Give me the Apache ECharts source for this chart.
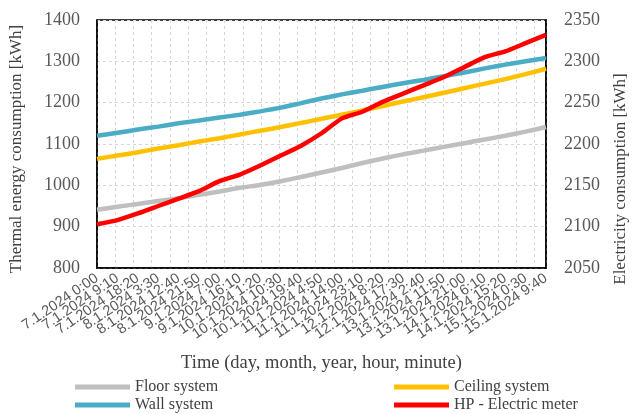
<!DOCTYPE html>
<html>
<head>
<meta charset="utf-8">
<script src="https://cdn.jsdelivr.net/npm/echarts@6/dist/echarts.min.js"></script>
<style>html,body{margin:0;padding:0;background:#fff}#c{width:637px;height:414px}</style>
</head>
<body>
<div id="c"></div>
<script>
var timeLabels = ['7.1.2024 0:00','7.1.2024 9:10','7.1.2024 18:20','8.1.2024 3:30','8.1.2024 12:40','8.1.2024 21:50','9.1.2024 7:00','9.1.2024 16:10','10.1.2024 1:20','10.1.2024 10:30','10.1.2024 19:40','11.1.2024 4:50','11.1.2024 14:00','11.1.2024 23:10','12.1.2024 8:20','12.1.2024 17:30','13.1.2024 2:40','13.1.2024 11:50','13.1.2024 21:00','14.1.2024 6:10','14.1.2024 15:20','15.1.2024 0:30','15.1.2024 9:40'];
var floorSystem = [941,948,955,962,969,977,985,994,1001,1010,1020,1031,1042,1054,1065,1075,1084,1093,1102,1111,1120,1130,1141];
var ceilingSystem = [1064,1072,1080,1089,1097,1106,1114,1123,1132,1141,1151,1161,1171,1181,1192,1203,1213,1224,1235,1246,1257,1269,1282];
var wallSystem = [1120,1127,1135,1142,1150,1157,1164,1171,1179,1188,1199,1210,1220,1229,1238,1247,1255,1264,1273,1283,1292,1300,1308];
var hpMeter = [2103,2108,2116,2125,2134,2143,2155,2163,2174,2186,2198,2213,2231,2239,2251,2261,2271,2281,2293,2305,2312,2322,2332];

var serif = "'Liberation Serif','Times New Roman',serif";
var chart = echarts.init(document.getElementById('c'), null, {renderer:'canvas'});
var gridLine = {show:true, lineStyle:{color:'#d6d6d6', type:[3,3], width:1}};
function legendCfg(left, top, name){
  return {left:left, top:top, padding:0, orient:'horizontal', itemWidth:55, itemHeight:5, icon:'rect',
    textStyle:{fontFamily:serif, fontSize:16, color:'#404040'}, data:[name]};
}
function plain(v){ return String(v); }
chart.setOption({
  animation:false,
  grid:{left:96, right:88, top:20, bottom:146, show:true, borderColor:'#000', borderWidth:1.5, backgroundColor:'#fff'},
  legend:[legendCfg(75,379,'Floor system'), legendCfg(75,397,'Wall system'),
          legendCfg(394,379,'Ceiling system'), legendCfg(394,397,'HP - Electric meter')],
  xAxis:[{
    type:'category', data:timeLabels, boundaryGap:false,
    axisLine:{lineStyle:{color:'#000', width:1.5}}, axisTick:{show:false},
    axisLabel:{interval:0, rotate:34, fontFamily:"'Liberation Sans',Arial,sans-serif", fontSize:14.5, color:'#595959', margin:9},
    splitLine:{show:false},
    name:'Time (day, month, year, hour, minute)', nameLocation:'middle', nameGap:86,
    nameTextStyle:{fontFamily:serif, fontSize:18.5, color:'#404040'}
  },{
    type:'value', min:0, max:24.64, interval:1, position:'bottom',
    axisLine:{show:false}, axisTick:{show:false}, axisLabel:{show:false},
    splitLine:gridLine
  }],
  yAxis:[{
    type:'value', min:800, max:1400, interval:100,
    axisLine:{show:true, lineStyle:{color:'#000', width:1.5}}, axisTick:{show:false},
    axisLabel:{fontFamily:serif, fontSize:18, color:'#595959', margin:17, formatter:plain},
    splitLine:gridLine,
    name:'Thermal energy consumption [kWh]', nameLocation:'middle', nameGap:72, nameRotate:90,
    nameTextStyle:{fontFamily:serif, fontSize:17, color:'#404040', padding:[0,10,0,0]}
  },{
    type:'value', min:2050, max:2350, interval:50, position:'right',
    axisLine:{show:true, lineStyle:{color:'#000', width:1.5}}, axisTick:{show:false},
    axisLabel:{fontFamily:serif, fontSize:18, color:'#595959', margin:18, formatter:plain},
    splitLine:{show:false},
    name:'Electricity consumption [kWh]', nameLocation:'middle', nameGap:66, nameRotate:90,
    nameTextStyle:{fontFamily:serif, fontSize:17, color:'#404040', padding:[0,70,0,0]}
  }],
  series:[
    {name:'Floor system', type:'line', data:floorSystem, symbol:'none', smooth:0.2, lineStyle:{width:4.5, color:'#BFBFBF'}, itemStyle:{color:'#BFBFBF'}},
    {name:'Ceiling system', type:'line', data:ceilingSystem, symbol:'none', smooth:0.2, lineStyle:{width:4.5, color:'#FFC000'}, itemStyle:{color:'#FFC000'}},
    {name:'Wall system', type:'line', data:wallSystem, symbol:'none', smooth:0.2, lineStyle:{width:4.5, color:'#4BACC6'}, itemStyle:{color:'#4BACC6'}},
    {name:'HP - Electric meter', type:'line', yAxisIndex:1, data:hpMeter, symbol:'none', smooth:0.2, lineStyle:{width:4.5, color:'#FF0000'}, itemStyle:{color:'#FF0000'}}
  ]
});
</script>
</body>
</html>
